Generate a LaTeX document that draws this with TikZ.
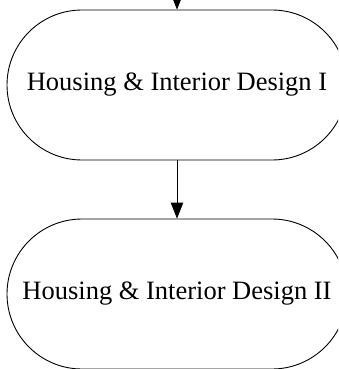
\documentclass[tikz,border=0pt]{standalone}
\usepackage{fontspec}
\setmainfont{Liberation Serif}
\usetikzlibrary{shapes.misc,arrows.meta}
\begin{document}
\begin{tikzpicture}[x=1pt,y=1pt,
    course/.style={draw,line width=0.9pt,rounded rectangle,minimum width=340pt,minimum height=150pt,inner sep=0pt,font=\fontsize{26.5}{30}\selectfont},
    flow/.style={line width=0.9pt,-{Triangle[length=16pt,width=12.5pt]}}]
      \clip (0,0) rectangle (338,-369);
      \draw
        (177,-85) node[course] (hid1){Housing \& Interior Design I}
        (177,-294) node[course] (hid2){Housing \& Interior Design II};
      \coordinate (in) at (177,20);
      \begin{scope}[flow]
        \draw (in) to (hid1.north);
        \draw (hid1.south) to (hid2.north);
      \end{scope}
    \end{tikzpicture}
\end{document}
